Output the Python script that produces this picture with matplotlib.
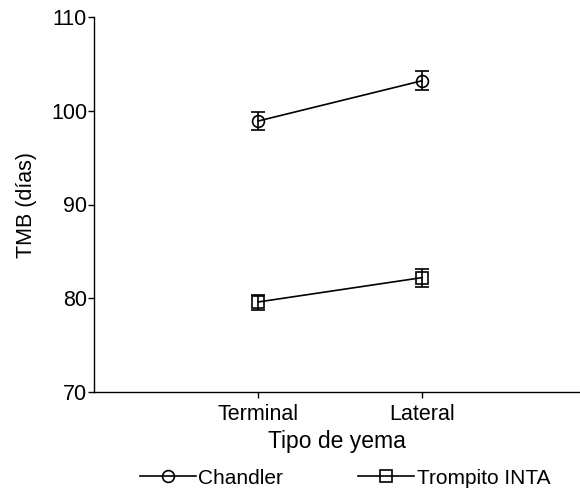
import numpy as np
import matplotlib.pyplot as plt
from matplotlib.lines import Line2D

plt.rcParams['font.family'] = ['Liberation Sans', 'DejaVu Sans']

tipos = ["Terminal", "Lateral"]
chandler = [98.9, 103.2]
chandler_err = [0.95, 1.0]
trompito = [79.6, 82.2]
trompito_err = [0.8, 0.95]

fig = plt.figure(figsize=(5.8, 4.93), dpi=100)
ax = fig.add_axes([94 / 580, 101 / 493, 486 / 580, 375 / 493])

x = np.arange(1, len(tipos) + 1)
style = dict(color="black", lw=1.2, elinewidth=1.2, capsize=5, capthick=1.2,
             mfc="none", mec="black", mew=1.2, ms=8.5)
ax.errorbar(x, chandler, yerr=chandler_err, marker="o", **style)
ax.errorbar(x, trompito, yerr=trompito_err, marker="s", **style)

ax.set_xlim(0, 486 / 164)
ax.set_ylim(70, 110)
ax.set_yticks([70, 80, 90, 100, 110])
ax.set_xticks(x)
ax.set_xticklabels(tipos)
ax.tick_params(direction="out", length=4, width=1, labelsize=15.5, pad=1)
ax.tick_params(axis="x", pad=5)
for s in ["top", "right"]:
    ax.spines[s].set_visible(False)
for s in ["left", "bottom"]:
    ax.spines[s].set_linewidth(1)

ax.set_xlabel("Tipo de yema", fontsize=16.5, labelpad=3)
ax.set_ylabel("TMB (días)", fontsize=15.5, labelpad=10)

# legend keys: plain line with the open marker, no error bars
keys = [Line2D([], [], color="black", lw=1.2, marker=m, mfc="none",
               mec="black", mew=1.2, ms=8.5) for m in ["o", "s"]]
fig.legend(keys, ["Chandler", "Trompito INTA"], loc="center",
           bbox_to_anchor=(345 / 580, 0.03), ncol=2, frameon=False,
           fontsize=15, handlelength=2.7, handletextpad=0.1,
           columnspacing=3.6)

fig.savefig("out.png", dpi=100)
